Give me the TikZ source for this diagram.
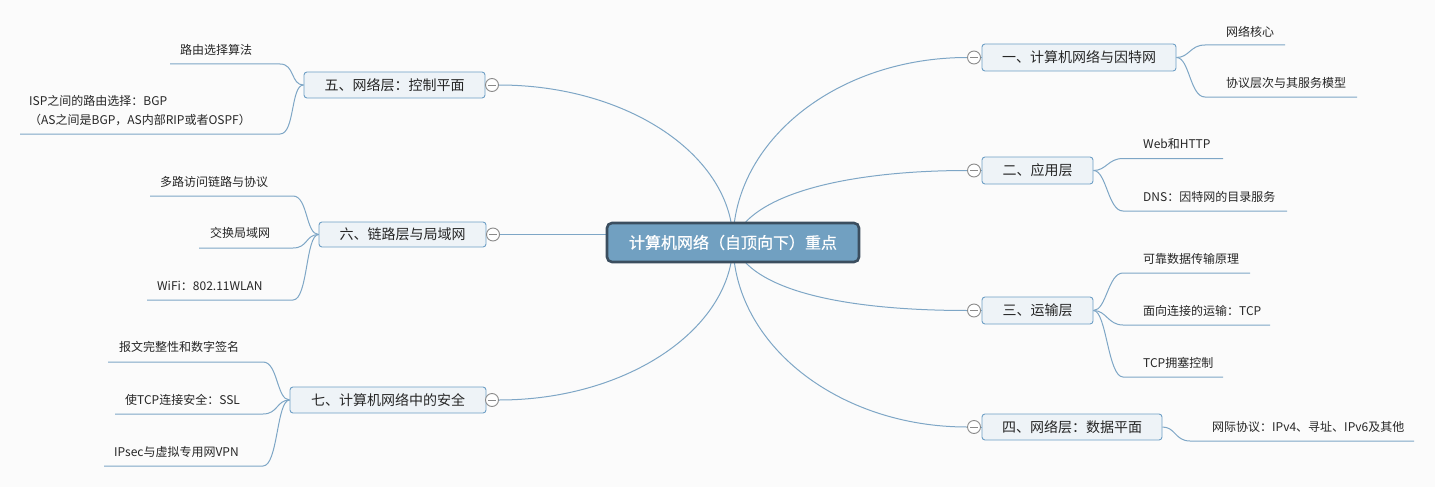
\documentclass[tikz,border=0pt]{standalone}
\usepackage{fontspec}
\setmainfont{Noto Sans CJK SC}
\newfontfamily\rootfont[FakeBold=0.8]{Noto Sans CJK SC}
\definecolor{bg}{HTML}{FBFBFB}
\definecolor{linec}{HTML}{7EA6C6}
\definecolor{boxfill}{HTML}{EEF3F7}
\definecolor{boxline}{HTML}{6E9FC5}
\definecolor{rootfill}{HTML}{71A0C1}
\definecolor{rootline}{HTML}{3B4E5F}
\definecolor{txt}{HTML}{262626}
\definecolor{circ}{HTML}{8A8A8A}
\pgfdeclarelayer{back}
\pgfdeclarelayer{lines}
\pgfsetlayers{back,lines,main}
\begin{document}
\begin{tikzpicture}[x=1pt,y=-1pt,
 conn/.style={draw=linec, line width=1pt},
 branch/.style={draw=boxline, fill=boxfill, rounded corners=3pt, line width=0.9pt, inner sep=0pt, font=\fontsize{14}{16}\selectfont, text=txt},
 rootbox/.style={draw=rootline, fill=rootfill, rounded corners=5pt, line width=2.6pt, inner sep=0pt, font=\rootfont\fontsize{16}{18}\selectfont, text=white, minimum width=252pt, minimum height=39pt},
 leaf/.style={anchor=west, inner sep=0pt, font=\fontsize{12}{14}\selectfont, text=txt},
 toggle/.style={circle, draw=circ, fill=white, line width=0.9pt, minimum size=13pt, inner sep=0pt,
   path picture={\draw[circ, line width=0.9pt] ([xshift=-4pt]path picture bounding box.center) -- ([xshift=4pt]path picture bounding box.center);}},
]
\begin{pgfonlayer}{back}
\fill[bg] (0,0) rectangle (1435,487);
\end{pgfonlayer}
\useasboundingbox (0,0) rectangle (1435,487);

% root
\node[rootbox] (root) at (733,242.5) {计算机网络（自顶向下）重点};

% branches
\node[branch, minimum width=194pt, minimum height=27pt] (n1) at (1079,57.5) {一、计算机网络与因特网};
\node[branch, minimum width=111pt, minimum height=27pt] (n2) at (1037.5,170.5) {二、应用层};
\node[branch, minimum width=111pt, minimum height=27pt] (n3) at (1037.5,310.5) {三、运输层};
\node[branch, minimum width=180pt, minimum height=26pt] (n4) at (1072,427) {四、网络层：数据平面};
\node[branch, minimum width=181pt, minimum height=26pt] (n5) at (394.5,85) {五、网络层：控制平面};
\node[branch, minimum width=167pt, minimum height=25pt] (n6) at (402.5,234.5) {六、链路层与局域网};
\node[branch, minimum width=196pt, minimum height=26pt] (n7) at (388,400) {七、计算机网络中的安全};

% toggles
\node[toggle] (c1) at (974,57.5) {};
\node[toggle] (c2) at (974,170.5) {};
\node[toggle] (c3) at (974,310.5) {};
\node[toggle] (c4) at (974,427) {};
\node[toggle] (c5) at (492,85) {};
\node[toggle] (c6) at (493,234.5) {};
\node[toggle] (c7) at (492,400) {};

% leaves
\node[leaf] (l11) at (1226,32) {网络核心};
\node[leaf] (l12) at (1226,83) {协议层次与其服务模型};
\node[leaf] (l21) at (1143,144) {Web和HTTP};
\node[leaf] (l22) at (1143,197) {DNS：因特网的目录服务};
\node[leaf] (l31) at (1143,259) {可靠数据传输原理};
\node[leaf] (l32) at (1143,311) {面向连接的运输：TCP};
\node[leaf] (l33) at (1143,363) {TCP拥塞控制};
\node[leaf] (l41) at (1212,427) {网际协议：IPv4、寻址、IPv6及其他};
\node[leaf] (l51) at (180,50) {路由选择算法};
\node[leaf, align=left, font=\fontsize{12}{19}\selectfont] (l52) at (29,111) {ISP之间的路由选择：BGP\\（AS之间是BGP，AS内部RIP或者OSPF）};
\node[leaf] (l61) at (160,182) {多路访问链路与协议};
\node[leaf] (l62) at (210,233) {交换局域网};
\node[leaf] (l63) at (157,286) {WiFi：802.11WLAN};
\node[leaf] (l71) at (119,347) {报文完整性和数字签名};
\node[leaf] (l72) at (125,400) {使TCP连接安全：SSL};
\node[leaf] (l73) at (114,452) {IPsec与虚拟专用网VPN};

% underline coordinates
\coordinate (u11a) at (1205,45);  \coordinate (u11b) at (1285,45);
\coordinate (u12a) at (1205,97);  \coordinate (u12b) at (1357,97);
\coordinate (u21a) at (1123,158.5); \coordinate (u21b) at (1223,158.5);
\coordinate (u22a) at (1123,211); \coordinate (u22b) at (1287,211);
\coordinate (u31a) at (1123,273); \coordinate (u31b) at (1250,273);
\coordinate (u32a) at (1123,325); \coordinate (u32b) at (1270,325);
\coordinate (u33a) at (1123,377); \coordinate (u33b) at (1223,377);
\coordinate (u41a) at (1190,441); \coordinate (u41b) at (1414,441);
\coordinate (u51a) at (280,64);   \coordinate (u51b) at (170,64);
\coordinate (u52a) at (280,134);  \coordinate (u52b) at (20,134);
\coordinate (u61a) at (293,196);  \coordinate (u61b) at (150,196);
\coordinate (u62a) at (293,248);  \coordinate (u62b) at (199,248);
\coordinate (u63a) at (293,300);  \coordinate (u63b) at (147,300);
\coordinate (u71a) at (263,362);  \coordinate (u71b) at (108,362);
\coordinate (u72a) at (263,414);  \coordinate (u72b) at (115,414);
\coordinate (u73a) at (263,466);  \coordinate (u73b) at (104,466);

\begin{pgfonlayer}{lines}
% root to toggles
\draw[conn] (root.center) .. controls (733,140) and (838,57.5) .. (c1.west);
\draw[conn] (root.center) .. controls (750,190) and (860,170.5) .. (c2.west);
\draw[conn] (root.center) .. controls (750,295) and (860,310.5) .. (c3.west);
\draw[conn] (root.center) .. controls (733,344) and (838,427) .. (c4.west);
\draw[conn] (root.center) .. controls (733,156) and (628,85) .. (c5.east);
\draw[conn] (c6.east) -- (c6.east -| root.center);
\draw[conn] (root.center) .. controls (733,328) and (628,400) .. (c7.east);
% toggles to branches
\foreach \i in {1,2,3,4} \draw[conn] (c\i.east) -- (n\i.west);
\foreach \i in {5,6,7} \draw[conn] (c\i.west) -- (n\i.east);
% right leaves
\foreach \n/\l in {1/11,1/12,2/21,2/22,3/31,3/32,3/33,4/41}
  \draw[conn] (n\n.east) .. controls +(13,0) and +(-15,0) .. (u\l a) -- (u\l b);
% left leaves
\foreach \n/\l in {5/51,5/52,6/61,6/62,6/63,7/71,7/72,7/73}
  \draw[conn] (n\n.west) .. controls +(-13,0) and +(15,0) .. (u\l a) -- (u\l b);
\end{pgfonlayer}
\end{tikzpicture}
\end{document}
